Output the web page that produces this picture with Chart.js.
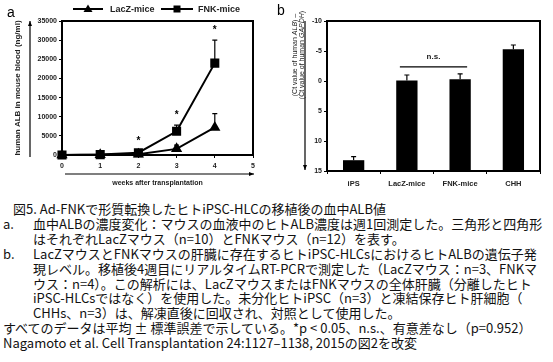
<!DOCTYPE html>
<html>
<head>
<meta charset="utf-8">
<script src="https://cdn.jsdelivr.net/npm/chart.js@4.4.0/dist/chart.umd.min.js"></script>
<style>
  body { margin: 0; background: #fff; width: 553px; height: 362px; overflow: hidden; position: relative; }
  #boxA { position: absolute; left: 0; top: 0; width: 270px; height: 195px; }
  #boxB { position: absolute; left: 270px; top: 0; width: 283px; height: 195px; }
  #caption { position: absolute; left: 0; top: 202px; width: 553px;
    font-family: "Noto Sans CJK JP", sans-serif; font-size: 13px; line-height: 14.9px; color: #111; white-space: nowrap; }
  #caption div { position: relative; }
  .in { padding-left: 33px; }
  .lab { position: absolute; left: 3px; }
</style>
</head>
<body>
<div id="boxA"><canvas id="chartA"></canvas></div>
<div id="boxB"><canvas id="chartB"></canvas></div>
<div id="caption">
  <div style="padding-left:13px">図5. Ad-FNKで形質転換したヒトiPSC-HLCの移植後の血中ALB値</div>
  <div class="in"><span class="lab">a.</span>血中ALBの濃度変化：マウスの血液中のヒトALB濃度は週1回測定した。三角形と四角形</div>
  <div class="in">はそれぞれLacZマウス（n=10）とFNKマウス（n=12）を表す。</div>
  <div class="in"><span class="lab">b.</span>LacZマウスとFNKマウスの肝臓に存在するヒトiPSC-HLCsにおけるヒトALBの遺伝子発</div>
  <div class="in">現レベル。移植後4週目にリアルタイムRT-PCRで測定した（LacZマウス：n=3、FNKマ</div>
  <div class="in">ウス：n=4）。この解析には、LacZマウスまたはFNKマウスの全体肝臓（分離したヒト</div>
  <div class="in">iPSC-HLCsではなく）を使用した。未分化ヒトiPSC（n=3）と凍結保存ヒト肝細胞（</div>
  <div class="in">CHHs、n=3）は、解凍直後に回収され、対照として使用した。</div>
  <div style="padding-left:3px">すべてのデータは平均 ± 標準誤差で示している。*p &lt; 0.05、n.s.、有意差なし（p=0.952）</div>
  <div style="padding-left:3px">Nagamoto et al. Cell Transplantation 24:1127–1138, 2015の図2を改変</div>
</div>
<script>
// panel a: human ALB in mouse blood (ng/ml)
const weeks = [0, 1, 2, 3, 4];
const fnk = [0, 100, 600, 6200, 24000];
const fnkErr = [0, 0, 400, 1600, 6000];
const lacZ = [0, 50, 200, 1600, 7200];
const lacZErr = [0, 0, 100, 1000, 3600];
const sigWeeks = [2, 3, 4];

// panel b: Ct(ALB) - Ct(GAPDH)
const groups = ['iPS', 'LacZ-mice', 'FNK-mice', 'CHH'];
const ctDiff = [13.2, -0.1, -0.3, -5.3];
const ctErr = [0.6, 0.9, 0.9, 0.7];
const nsPair = [1, 2];

const FONT = '"Liberation Sans", Arial, sans-serif';
Chart.defaults.font.family = FONT;
Chart.defaults.color = '#222';

function arrow(ctx, x1, y1, x2, y2) {
  const ang = Math.atan2(y2 - y1, x2 - x1);
  ctx.beginPath();
  ctx.moveTo(x1, y1);
  ctx.lineTo(x2, y2);
  ctx.stroke();
  ctx.beginPath();
  ctx.moveTo(x2, y2);
  ctx.lineTo(x2 - 5 * Math.cos(ang) + 2 * Math.sin(ang), y2 - 5 * Math.sin(ang) - 2 * Math.cos(ang));
  ctx.lineTo(x2 - 5 * Math.cos(ang) - 2 * Math.sin(ang), y2 - 5 * Math.sin(ang) + 2 * Math.cos(ang));
  ctx.closePath();
  ctx.fill();
}

function upperErr(ctx, x, y0, y1, cap) {
  ctx.beginPath();
  ctx.moveTo(x, y0);
  ctx.lineTo(x, y1);
  ctx.moveTo(x - cap, y1);
  ctx.lineTo(x + cap, y1);
  ctx.stroke();
}

const decoA = {
  id: 'decoA',
  beforeDatasetsDraw(chart) {
    const { ctx, chartArea: a, scales: { x, y } } = chart;
    ctx.save();
    ctx.strokeStyle = '#000';
    ctx.lineWidth = 2;
    ctx.strokeRect(a.left, a.top, a.right - a.left, a.bottom - a.top);
    ctx.lineWidth = 1.2;
    [[fnk, fnkErr], [lacZ, lacZErr]].forEach(([vals, errs]) => {
      weeks.forEach((w, i) => {
        if (!errs[i]) return;
        upperErr(ctx, x.getPixelForValue(w), y.getPixelForValue(vals[i]),
          y.getPixelForValue(vals[i] + errs[i]), 2.5);
      });
    });
    ctx.restore();
  },
  afterDraw(chart) {
    const { ctx, chartArea: a, scales: { x, y } } = chart;
    ctx.save();
    ctx.fillStyle = '#000';
    ctx.strokeStyle = '#000';
    ctx.lineWidth = 1.2;
    // axis arrows
    arrow(ctx, a.left + 3, a.bottom + 19, a.right + 1, a.bottom + 19);
    arrow(ctx, 30, a.bottom + 2, 30, a.top);
    // stars
    ctx.font = 'bold 10px ' + FONT;
    ctx.textAlign = 'center';
    ctx.textBaseline = 'middle';
    sigWeeks.forEach(w => {
      const i = weeks.indexOf(w);
      ctx.fillText('*', x.getPixelForValue(w), y.getPixelForValue(fnk[i] + fnkErr[i]) - 10);
    });
    // titles
    ctx.fillStyle = '#222';
    ctx.font = 'bold 7px ' + FONT;
    ctx.fillText('weeks after transplantation', (a.left + a.right) / 2, a.bottom + 28);
    ctx.save();
    ctx.translate(18, (a.top + a.bottom) / 2);
    ctx.rotate(-Math.PI / 2);
    ctx.font = 'bold 8px ' + FONT;
    ctx.fillText('human ALB in mouse blood (ng/ml)', 0, 0);
    ctx.restore();
    // panel letter
    ctx.fillStyle = '#000';
    ctx.font = '14px ' + FONT;
    ctx.textAlign = 'left';
    ctx.fillText('a', 7, 13);
    // legend
    ctx.lineWidth = 1.8;
    ctx.beginPath();
    ctx.moveTo(73, 9); ctx.lineTo(103, 9);
    ctx.moveTo(161, 9); ctx.lineTo(193, 9);
    ctx.stroke();
    ctx.beginPath();
    ctx.moveTo(88, 4.5); ctx.lineTo(92.5, 12); ctx.lineTo(83.5, 12); ctx.closePath();
    ctx.fill();
    ctx.fillRect(173.5, 5.5, 7, 7);
    ctx.fillStyle = '#222';
    ctx.font = 'bold 9px ' + FONT;
    ctx.fillText('LacZ-mice', 110, 9.5);
    ctx.fillText('FNK-mice', 198, 9.5);
    ctx.restore();
  }
};

new Chart(document.getElementById('chartA'), {
  type: 'line',
  data: {
    datasets: [
      {
        label: 'FNK-mice',
        data: weeks.map((w, i) => ({ x: w, y: fnk[i] })),
        borderColor: '#000', backgroundColor: '#000', borderWidth: 2,
        pointStyle: 'rect', pointRadius: 5, tension: 0, clip: false
      },
      {
        label: 'LacZ-mice',
        data: weeks.map((w, i) => ({ x: w, y: lacZ[i] })),
        borderColor: '#000', backgroundColor: '#000', borderWidth: 2,
        pointStyle: 'triangle', pointRadius: 4.5, tension: 0, clip: false
      }
    ]
  },
  options: {
    responsive: true,
    maintainAspectRatio: false,
    animation: false,
    layout: { padding: { left: 0, right: 17, top: 21, bottom: 0 } },
    plugins: { legend: { display: false }, tooltip: { enabled: false } },
    scales: {
      x: {
        type: 'linear', min: 0, max: 5,
        afterFit: s => { s.height = 40; },
        border: { display: false },
        grid: { drawOnChartArea: false, tickLength: 3, color: '#000' },
        ticks: { stepSize: 1, padding: 4, font: { size: 7, weight: 'bold' } }
      },
      y: {
        min: 0, max: 35000,
        afterFit: s => { s.width = 62; },
        border: { display: false },
        grid: { drawOnChartArea: false, tickLength: 3, color: '#000' },
        ticks: { stepSize: 5000, padding: 2, font: { size: 7, weight: 'bold' }, callback: v => String(v) }
      }
    }
  },
  plugins: [decoA]
});

const decoB = {
  id: 'decoB',
  afterDatasetsDraw(chart) {
    const { ctx, chartArea: a, scales: { x, y } } = chart;
    ctx.save();
    ctx.strokeStyle = '#000';
    ctx.fillStyle = '#000';
    ctx.lineWidth = 2;
    ctx.strokeRect(a.left, a.top, a.right - a.left, a.bottom - a.top);
    ctx.lineWidth = 1.2;
    groups.forEach((g, i) => {
      upperErr(ctx, x.getPixelForValue(i), y.getPixelForValue(ctDiff[i]),
        y.getPixelForValue(ctDiff[i] - ctErr[i]), 2.5);
    });
    // n.s. bracket
    const i0 = nsPair[0], i1 = nsPair[1];
    const topY = Math.min(y.getPixelForValue(ctDiff[i0] - ctErr[i0]), y.getPixelForValue(ctDiff[i1] - ctErr[i1])) - 7;
    ctx.beginPath();
    ctx.moveTo(x.getPixelForValue(i0) - 7, topY);
    ctx.lineTo(x.getPixelForValue(i1) + 7, topY);
    ctx.stroke();
    ctx.fillStyle = '#222';
    ctx.font = 'bold 8px ' + FONT;
    ctx.textAlign = 'center';
    ctx.textBaseline = 'middle';
    ctx.fillText('n.s.', (x.getPixelForValue(i0) + x.getPixelForValue(i1)) / 2, topY - 10);
    // y arrow (pointing down)
    ctx.fillStyle = '#000';
    arrow(ctx, 35, a.top, 35, a.bottom - 1);
    // y title, two lines with italic gene names
    ctx.fillStyle = '#222';
    const lines = [['(Ct value of human ', 'ALB', ') \u2013'], ['(Ct value of human ', 'GAPDH', ')']];
    const reg = '7px ' + FONT, ita = 'italic 7px ' + FONT;
    lines.forEach((parts, k) => {
      ctx.save();
      ctx.translate(25 + k * 7, 55);
      ctx.rotate(-Math.PI / 2);
      ctx.textAlign = 'left';
      let w = 0;
      parts.forEach((p, j) => { ctx.font = j === 1 ? ita : reg; w += ctx.measureText(p).width; });
      let cx = -w / 2;
      parts.forEach((p, j) => {
        ctx.font = j === 1 ? ita : reg;
        ctx.fillText(p, cx, 0);
        cx += ctx.measureText(p).width;
      });
      ctx.restore();
    });
    // panel letter
    ctx.fillStyle = '#000';
    ctx.font = '14px ' + FONT;
    ctx.textAlign = 'left';
    ctx.fillText('b', 7, 11);
    ctx.restore();
  }
};

new Chart(document.getElementById('chartB'), {
  type: 'bar',
  data: {
    labels: groups,
    datasets: [{
      data: ctDiff,
      base: 15,
      backgroundColor: '#000',
      borderWidth: 0,
      barPercentage: 0.4,
      categoryPercentage: 1
    }]
  },
  options: {
    responsive: true,
    maintainAspectRatio: false,
    animation: false,
    layout: { padding: { left: 0, right: 13, top: 21, bottom: 0 } },
    plugins: { legend: { display: false }, tooltip: { enabled: false } },
    scales: {
      x: {
        afterFit: s => { s.height = 24; },
        border: { display: false },
        grid: { drawOnChartArea: false, tickLength: 3, color: '#000' },
        ticks: { padding: 5, font: { size: 7.5, weight: 'bold' } }
      },
      y: {
        reverse: true, min: -10, max: 15,
        afterFit: s => { s.width = 57; },
        border: { display: false },
        grid: { drawOnChartArea: false, tickLength: 3, color: '#000' },
        ticks: { stepSize: 5, padding: 2, font: { size: 7, weight: 'bold' }, callback: v => String(v) }
      }
    }
  },
  plugins: [decoB]
});
</script>
</body>
</html>
